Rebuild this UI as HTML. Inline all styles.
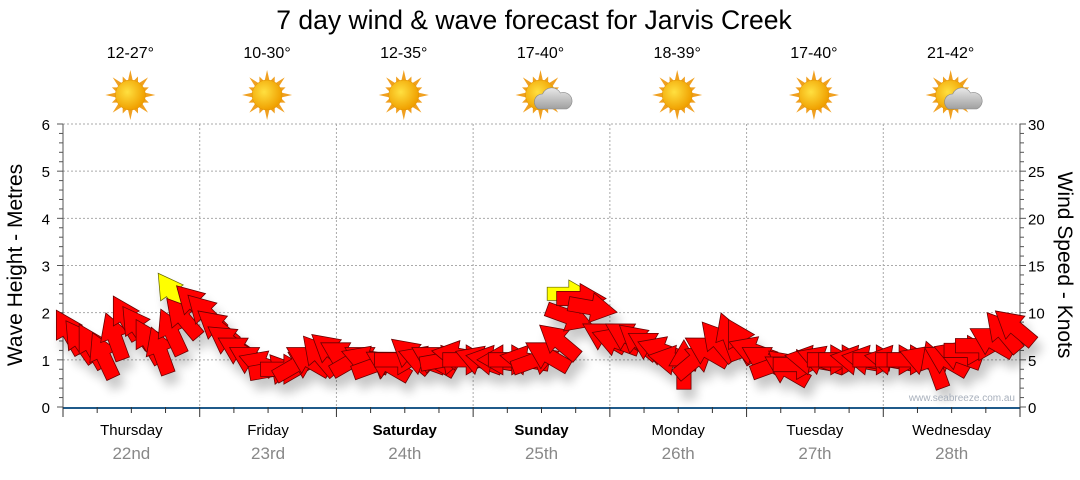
<!DOCTYPE html>
<html><head><meta charset="utf-8"><style>
body{margin:0;background:#fff;width:1080px;height:475px;overflow:hidden;font-family:"Liberation Sans",sans-serif}
svg text{font-family:"Liberation Sans",sans-serif}
</style></head><body>
<svg id="chart" width="1080" height="475" viewBox="0 0 1080 475">
<defs>
<filter id="sh" x="-50%" y="-50%" width="200%" height="200%"><feGaussianBlur in="SourceAlpha" stdDeviation="5"/><feOffset dx="5" dy="10"/><feComponentTransfer><feFuncA type="linear" slope="0.22"/></feComponentTransfer><feMerge><feMergeNode/><feMergeNode in="SourceGraphic"/></feMerge></filter>
<radialGradient id="sun" cx="40%" cy="40%" r="60%"><stop offset="0" stop-color="#ffe040"/><stop offset="1" stop-color="#f0a000"/></radialGradient>
<linearGradient id="cloud" x1="0" y1="0" x2="0" y2="1"><stop offset="0" stop-color="#e8e8e8"/><stop offset="1" stop-color="#a0a0a0"/></linearGradient>
</defs>
<text x="534" y="29" font-size="26.5" text-anchor="middle" fill="#000">7 day wind &amp; wave forecast for Jarvis Creek</text>
<g id="grid"></g><g id="axes"></g><g id="icons"></g><g id="marks" filter="url(#sh)"></g>
<text x="1015" y="401" font-size="10" text-anchor="end" fill="#a8b0bc">www.seabreeze.com.au</text>
<text transform="translate(22,265) rotate(-90)" font-size="21" text-anchor="middle">Wave Height - Metres</text>
<text transform="translate(1058,265) rotate(90)" font-size="21" text-anchor="middle">Wind Speed - Knots</text>
</svg>
<script>
const days=["Thursday","Friday","Saturday","Sunday","Monday","Tuesday","Wednesday"];
const dates=["22nd","23rd","24th","25th","26th","27th","28th"];
const temps=["12-27°","10-30°","12-35°","17-40°","18-39°","17-40°","21-42°"];
const cloudy=[false,false,false,true,false,false,true];
const boldDays=[false,false,true,true,false,false,false];
const waveTicks=[0,1,2,3,4,5,6];
const windTicks=[0,5,10,15,20,25,30];
// wind speed (knots), every 2 hours
const windSpeed=[8,7,6.5,5.5,7.5,9.5,8.5,7,6,8,9.5,11,
10,8.5,7,6,5,4.5,4,4,4.5,5,5.5,6,
5.5,5,5,4.5,4.5,5,5.5,5,5,5,5.5,5,
5,5,5,5,5,5,5.5,7,9.5,11.5,10.5,7.5,
7,7.5,7,6.5,6,5,4.5,5,6,7,7.5,7,
6,5,4.5,4,4.5,5,5,5,5,5,5,5,
5,5,5,5,4.5,5,5.5,6,6.5,7,8,8.5];
// direction arrow points (degrees, 0=up, clockwise)
const windDir=[-30,-35,-30,-25,-20,-30,-35,-30,-20,-25,-40,-45,
-45,-50,-55,-60,-60,-70,80,90,60,-60,-40,-50,
-60,60,-70,70,-60,90,-50,-70,-60,80,-80,90,
-70,-80,-90,90,-80,70,-60,-50,110,90,100,-60,
-70,-60,-50,-60,-70,-80,0,50,-60,-40,-20,-30,
-70,-60,70,-60,90,-80,-70,90,90,-80,-80,90,
-80,90,90,-70,-20,-60,-70,90,90,-60,-40,-50];
const NS="http://www.w3.org/2000/svg";
const X0=63,X1=1020,Y0=407,Y1=124;
const xTime=h=>X0+(X1-X0)*h/168;
const yWave=m=>Y0-(Y0-Y1)*m/6;
const yWind=k=>Y0-(Y0-Y1)*k/30;
function mk(tag,attrs,parent,txt){const e=document.createElementNS(NS,tag);for(const k in attrs)e.setAttribute(k,attrs[k]);if(txt!==undefined)e.textContent=txt;parent.appendChild(e);return e;}
const grid=document.getElementById('grid'),axes=document.getElementById('axes'),icons=document.getElementById('icons'),marks=document.getElementById('marks');
waveTicks.forEach(m=>{
 if(m>0){const l=mk('line',{x1:X0,x2:X1,y1:yWave(m),y2:yWave(m),stroke:'#aaa','stroke-dasharray':'2,2'},grid);
 
 }
 const t=mk('text',{x:50,y:yWave(m)+6,'font-size':15,'text-anchor':'end'},axes,m);
 
 
});
windTicks.forEach(k=>{
 const t=mk('text',{x:1028,y:yWind(k)+6,'font-size':15},axes,k);
 
 
});
for(let i=0;i<=30;i++){const y=yWind(i);const major=i%5==0;
 mk('line',{x1:X0-(major?6:4),x2:X0,y1:y,y2:y,stroke:'#555'},axes);
 mk('line',{x1:X1,x2:X1+(major?6:4),y1:y,y2:y,stroke:'#555'},axes);}
mk('line',{x1:X0,x2:X0,y1:Y1,y2:Y0,stroke:'#555'},axes);
mk('line',{x1:X1,x2:X1,y1:Y1,y2:Y0,stroke:'#555'},axes);
mk('line',{x1:X0,x2:X1,y1:Y0+1,y2:Y0+1,stroke:'#1f5a8a','stroke-width':2},axes);
for(let h=0;h<=168;h+=6){const x=xTime(h);mk('line',{x1:x,x2:x,y1:Y0,y2:Y0+(h%24==0?10:6),stroke:'#333'},axes);}
days.forEach((d,i)=>{
 const cx=xTime(i*24+12);
 if(i>0){const l=mk('line',{x1:xTime(i*24),x2:xTime(i*24),y1:Y1,y2:Y0,stroke:'#aaa','stroke-dasharray':'2,2'},grid);
 
 }
 const t=mk('text',{x:cx,y:435,'font-size':15,'text-anchor':'middle','font-weight':boldDays[i]?'bold':'normal'},axes,d);
 
 
 const t2=mk('text',{x:cx,y:459,'font-size':17,'text-anchor':'middle',fill:'#888'},axes,dates[i]);
 
 
 const t3=mk('text',{x:cx-1,y:58,'font-size':16,'text-anchor':'middle'},icons,temps[i]);
 
 
 const g=mk('g',{transform:`translate(${cx-1},95)`},icons);
 
 
 for(let r=0;r<16;r++){const a=r*22.5;const len=r%2?20:25;
  mk('polygon',{points:`-2.5,-14 2.5,-14 0,-${len}`,fill:'#f0a020',transform:`rotate(${a})`},g);}
 mk('circle',{r:15,fill:'url(#sun)',stroke:'#e09000','stroke-width':0.5},g);
 if(cloudy[i]){mk('path',{d:'M-2,14 a8,8 0 0 1 4,-15 a10,10 0 0 1 18,-1 a8,8 0 0 1 6,16 z',fill:'url(#cloud)',stroke:'#888','stroke-width':0.6},g);}
});
const ARW="M-5.5,19 L5.5,19 L5.5,1 L11.5,1 L0,-19 L-11.5,1 L-5.5,1 Z";
// highlighted arrows drawn first (behind)
const hlHour=[19,89];
const hlSpeed=[12.2,12];
const hlDir=[-35,90];
hlHour.forEach((h,i)=>{
 const a=mk('path',{d:ARW,fill:'#ffff00',stroke:'#660','stroke-width':0.6,transform:`translate(${xTime(h)},${yWind(hlSpeed[i])}) rotate(${hlDir[i]}) scale(1.2)`},marks);
 
 
});
windSpeed.forEach((k,i)=>{
 const h=i*2+1;
 const a=mk('path',{d:ARW,fill:'#ff0000',stroke:'#600','stroke-width':0.6,transform:`translate(${xTime(h)},${yWind(k)}) rotate(${windDir[i]}) scale(1.3)`},marks);
 
 
});
</script>
</body></html>
